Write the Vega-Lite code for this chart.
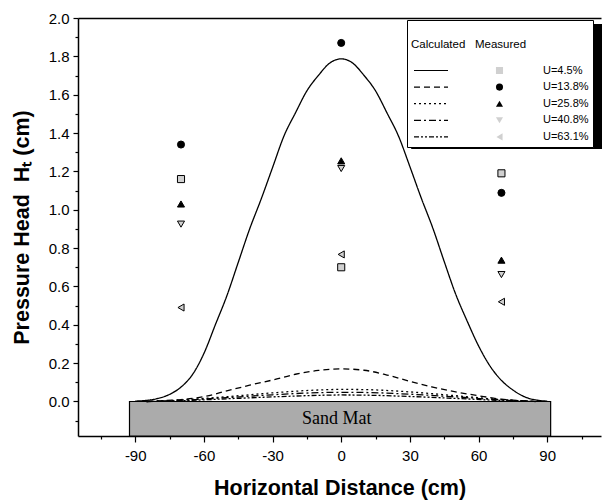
{
  "$schema": "https://vega.github.io/schema/vega-lite/v6.json",
  "width": 523,
  "height": 418,
  "autosize": {"type": "none"},
  "padding": {"left": 78, "top": 18, "right": 1, "bottom": 67},
  "background": "white",
  "config": {"view": {"stroke": null}, "font": "Liberation Sans"},
  "datasets": {
    "calc": [
      {"x": -90, "h": 0.002, "U": "U=4.5%"}, {"x": -85, "h": 0.006, "U": "U=4.5%"}, {"x": -80, "h": 0.016, "U": "U=4.5%"},
      {"x": -75, "h": 0.037, "U": "U=4.5%"}, {"x": -70, "h": 0.075, "U": "U=4.5%"}, {"x": -65, "h": 0.14, "U": "U=4.5%"},
      {"x": -60, "h": 0.25, "U": "U=4.5%"}, {"x": -55, "h": 0.40, "U": "U=4.5%"}, {"x": -50, "h": 0.55, "U": "U=4.5%"},
      {"x": -45, "h": 0.725, "U": "U=4.5%"}, {"x": -40, "h": 0.90, "U": "U=4.5%"}, {"x": -35, "h": 1.055, "U": "U=4.5%"},
      {"x": -30, "h": 1.22, "U": "U=4.5%"}, {"x": -25, "h": 1.385, "U": "U=4.5%"}, {"x": -20, "h": 1.505, "U": "U=4.5%"},
      {"x": -15, "h": 1.62, "U": "U=4.5%"}, {"x": -10, "h": 1.70, "U": "U=4.5%"}, {"x": -5, "h": 1.765, "U": "U=4.5%"},
      {"x": 0, "h": 1.787, "U": "U=4.5%"}, {"x": 5, "h": 1.765, "U": "U=4.5%"}, {"x": 10, "h": 1.70, "U": "U=4.5%"},
      {"x": 15, "h": 1.62, "U": "U=4.5%"}, {"x": 20, "h": 1.505, "U": "U=4.5%"}, {"x": 25, "h": 1.385, "U": "U=4.5%"},
      {"x": 30, "h": 1.225, "U": "U=4.5%"}, {"x": 35, "h": 1.06, "U": "U=4.5%"}, {"x": 40, "h": 0.905, "U": "U=4.5%"},
      {"x": 45, "h": 0.73, "U": "U=4.5%"}, {"x": 50, "h": 0.56, "U": "U=4.5%"}, {"x": 55, "h": 0.42, "U": "U=4.5%"},
      {"x": 60, "h": 0.29, "U": "U=4.5%"}, {"x": 65, "h": 0.185, "U": "U=4.5%"}, {"x": 70, "h": 0.11, "U": "U=4.5%"},
      {"x": 75, "h": 0.06, "U": "U=4.5%"}, {"x": 80, "h": 0.025, "U": "U=4.5%"}, {"x": 85, "h": 0.008, "U": "U=4.5%"},
      {"x": 90, "h": 0.002, "U": "U=4.5%"},

      {"x": -85, "h": 0.0, "U": "U=13.8%"}, {"x": -80, "h": 0.003, "U": "U=13.8%"}, {"x": -70, "h": 0.01, "U": "U=13.8%"},
      {"x": -60, "h": 0.025, "U": "U=13.8%"}, {"x": -50, "h": 0.055, "U": "U=13.8%"}, {"x": -40, "h": 0.085, "U": "U=13.8%"},
      {"x": -30, "h": 0.112, "U": "U=13.8%"}, {"x": -20, "h": 0.142, "U": "U=13.8%"}, {"x": -10, "h": 0.162, "U": "U=13.8%"},
      {"x": 0, "h": 0.17, "U": "U=13.8%"}, {"x": 10, "h": 0.163, "U": "U=13.8%"}, {"x": 20, "h": 0.138, "U": "U=13.8%"},
      {"x": 30, "h": 0.105, "U": "U=13.8%"}, {"x": 40, "h": 0.075, "U": "U=13.8%"}, {"x": 50, "h": 0.05, "U": "U=13.8%"},
      {"x": 60, "h": 0.03, "U": "U=13.8%"}, {"x": 70, "h": 0.012, "U": "U=13.8%"}, {"x": 80, "h": 0.003, "U": "U=13.8%"},
      {"x": 85, "h": 0.0, "U": "U=13.8%"},

      {"x": -85, "h": 0.0, "U": "U=25.8%"}, {"x": -70, "h": 0.008, "U": "U=25.8%"}, {"x": -50, "h": 0.025, "U": "U=25.8%"},
      {"x": -30, "h": 0.045, "U": "U=25.8%"}, {"x": -10, "h": 0.06, "U": "U=25.8%"}, {"x": 0, "h": 0.063, "U": "U=25.8%"},
      {"x": 10, "h": 0.062, "U": "U=25.8%"}, {"x": 30, "h": 0.05, "U": "U=25.8%"}, {"x": 50, "h": 0.03, "U": "U=25.8%"},
      {"x": 70, "h": 0.01, "U": "U=25.8%"}, {"x": 85, "h": 0.0, "U": "U=25.8%"},

      {"x": -85, "h": 0.0, "U": "U=40.8%"}, {"x": -70, "h": 0.006, "U": "U=40.8%"}, {"x": -50, "h": 0.02, "U": "U=40.8%"},
      {"x": -30, "h": 0.035, "U": "U=40.8%"}, {"x": -10, "h": 0.046, "U": "U=40.8%"}, {"x": 0, "h": 0.048, "U": "U=40.8%"},
      {"x": 10, "h": 0.047, "U": "U=40.8%"}, {"x": 30, "h": 0.038, "U": "U=40.8%"}, {"x": 50, "h": 0.024, "U": "U=40.8%"},
      {"x": 70, "h": 0.008, "U": "U=40.8%"}, {"x": 85, "h": 0.0, "U": "U=40.8%"},

      {"x": -85, "h": 0.0, "U": "U=63.1%"}, {"x": -70, "h": 0.004, "U": "U=63.1%"}, {"x": -50, "h": 0.014, "U": "U=63.1%"},
      {"x": -30, "h": 0.024, "U": "U=63.1%"}, {"x": -10, "h": 0.032, "U": "U=63.1%"}, {"x": 0, "h": 0.034, "U": "U=63.1%"},
      {"x": 10, "h": 0.033, "U": "U=63.1%"}, {"x": 30, "h": 0.026, "U": "U=63.1%"}, {"x": 50, "h": 0.016, "U": "U=63.1%"},
      {"x": 70, "h": 0.005, "U": "U=63.1%"}, {"x": 85, "h": 0.0, "U": "U=63.1%"}
    ],
    "meas": [
      {"x": -70, "h": 1.16, "U": "U=4.5%"}, {"x": -70, "h": 1.34, "U": "U=13.8%"}, {"x": -70, "h": 1.03, "U": "U=25.8%"},
      {"x": -70, "h": 0.925, "U": "U=40.8%"}, {"x": -70, "h": 0.49, "U": "U=63.1%"},
      {"x": 0, "h": 0.70, "U": "U=4.5%"}, {"x": 0, "h": 1.87, "U": "U=13.8%"}, {"x": 0, "h": 1.255, "U": "U=25.8%"},
      {"x": 0, "h": 1.215, "U": "U=40.8%"}, {"x": 0, "h": 0.767, "U": "U=63.1%"},
      {"x": 70, "h": 1.19, "U": "U=4.5%"}, {"x": 70, "h": 1.088, "U": "U=13.8%"}, {"x": 70, "h": 0.737, "U": "U=25.8%"},
      {"x": 70, "h": 0.662, "U": "U=40.8%"}, {"x": 70, "h": 0.52, "U": "U=63.1%"}
    ],
    "mat": [
      {"xs": -92.5, "xe": 91.5, "ys": 0, "ye": -0.18, "xc": -2, "yc": -0.09, "label": "Sand Mat"}
    ]
  },
  "layer": [
    {
      "data": {"name": "mat"},
      "mark": {"type": "rect", "fill": "#ababab", "stroke": "black", "strokeWidth": 1.2},
      "encoding": {
        "x": {"field": "xs", "type": "quantitative", "scale": {"domain": [-115, 113.5], "nice": false, "zero": false}, "axis": null},
        "x2": {"field": "xe"},
        "y": {"field": "ys", "type": "quantitative", "scale": {"domain": [-0.18, 2.0], "nice": false, "zero": false}, "axis": null},
        "y2": {"field": "ye"}
      }
    },
    {
      "data": {"name": "mat"},
      "mark": {"type": "text", "font": "Liberation Serif", "fontSize": 18, "align": "center", "baseline": "middle"},
      "encoding": {
        "x": {"field": "xc", "type": "quantitative", "axis": null},
        "y": {"field": "yc", "type": "quantitative", "axis": null},
        "text": {"field": "label"},
        "color": {
          "field": "label", "type": "nominal",
          "scale": {"range": ["black"]},
          "legend": {
            "orient": "none", "legendX": 333, "legendY": 6, "title": null, "padding": 0,
            "fillColor": "black", "strokeColor": "black",
            "symbolType": "square", "symbolSize": 36100, "symbolOffset": 0, "symbolOpacity": 0,
            "labelExpr": "''", "labelOpacity": 0, "clipHeight": 124, "zindex": 0
          }
        }
      }
    },
    {
      "data": {"name": "calc"},
      "mark": {"type": "line", "color": "black", "strokeWidth": 1.3, "interpolate": "monotone"},
      "encoding": {
        "x": {
          "field": "x", "type": "quantitative",
          "axis": {
            "orient": "bottom", "title": "Horizontal Distance (cm)",
            "values": [-105, -90, -75, -60, -45, -30, -15, 0, 15, 30, 45, 60, 75, 90, 105],
            "labelExpr": "datum.value % 30 === 0 ? '' + datum.value : ''",
            "tickSize": {"condition": {"test": "datum.value % 30 === 0", "value": 6}, "value": 3},
            "grid": false, "domainColor": "black", "domainWidth": 1.5, "tickColor": "black", "tickWidth": 1.2,
            "labelFont": "Liberation Sans", "labelFontSize": 15, "labelColor": "black", "labelPadding": 6,
            "labelFlush": false, "labelOverlap": false,
            "titleFont": "Liberation Sans", "titleFontSize": 21.5, "titleFontWeight": "bold", "titleColor": "black", "titlePadding": 14
          }
        },
        "y": {
          "field": "h", "type": "quantitative",
          "axis": {
            "orient": "left",
            "title": "Pressure Head\u00a0\u00a0Hₜ (cm)",
            "values": [0, 0.2, 0.4, 0.6, 0.8, 1.0, 1.2, 1.4, 1.6, 1.8, 2.0],
            "format": ".1f",
            "tickSize": 5,
            "grid": false, "domainColor": "black", "domainWidth": 1.5, "tickColor": "black", "tickWidth": 1.2,
            "labelFont": "Liberation Sans", "labelFontSize": 15, "labelColor": "black", "labelPadding": 4,
            "labelFlush": false, "labelOverlap": false,
            "titleFont": "Liberation Sans", "titleFontSize": 21.5, "titleFontWeight": "bold", "titleColor": "black", "titlePadding": 15
          }
        },
        "strokeDash": {
          "field": "U", "type": "nominal",
          "scale": {
            "domain": ["U=63.1%", "U=40.8%", "U=25.8%", "U=13.8%", "U=4.5%"],
            "range": [[5, 2, 2, 2, 2, 2], [7, 3, 2, 3], [2, 3], [6, 4], [1, 0]]
          },
          "legend": {
            "orient": "none", "legendX": 335, "legendY": 47, "title": null, "padding": 0,
            "values": ["U=4.5%", "U=13.8%", "U=25.8%", "U=40.8%", "U=63.1%"],
            "symbolType": "stroke", "symbolSize": 1156, "symbolStrokeColor": "black", "symbolStrokeWidth": 1.2,
            "labelExpr": "''", "labelFontSize": 11, "clipHeight": 11, "rowPadding": 4.6, "zindex": 2
          }
        }
      }
    },
    {
      "data": {"name": "meas"},
      "mark": {"type": "point", "filled": true, "stroke": "black", "strokeWidth": 1, "opacity": 1, "size": 50},
      "encoding": {
        "x": {
          "field": "x", "type": "quantitative",
          "axis": {"orient": "top", "labels": false, "ticks": false, "title": null, "grid": false, "domainColor": "black", "domainWidth": 1.5}
        },
        "y": {
          "field": "h", "type": "quantitative",
          "axis": {
            "orient": "left", "values": [-0.1, 0.1, 0.3, 0.5, 0.7, 0.9, 1.1, 1.3, 1.5, 1.7, 1.9],
            "labels": false, "title": null, "domain": false, "grid": false,
            "tickSize": 3, "tickColor": "black", "tickWidth": 1.2
          }
        },
        "fill": {
          "field": "U", "type": "nominal",
          "scale": {
            "domain": ["U=4.5%", "U=13.8%", "U=25.8%", "U=40.8%", "U=63.1%"],
            "range": ["#d0d0d0", "black", "black", "#d0d0d0", "#d0d0d0"]
          },
          "legend": {
            "orient": "none", "legendX": 329, "legendY": 2,
            "title": ["", "Calculated\u00a0\u00a0\u00a0Measured"],
            "titleFont": "Liberation Sans", "titleFontSize": 11.5, "titleFontWeight": "normal", "titleColor": "black",
            "titleLineHeight": 14.5, "titlePadding": 15, "padding": 4,
            "fillColor": "white", "strokeColor": "black",
            "symbolSize": 50, "symbolOffset": 83, "symbolStrokeColor": "black", "symbolStrokeWidth": 1,
            "labelOffset": 38, "labelFont": "Liberation Sans", "labelFontSize": 11, "labelColor": "black",
            "labelExpr": "datum.label + '        '",
            "clipHeight": 11, "rowPadding": 4.6, "zindex": 1
          }
        },
        "shape": {
          "field": "U", "type": "nominal",
          "scale": {
            "domain": ["U=4.5%", "U=13.8%", "U=25.8%", "U=40.8%", "U=63.1%"],
            "range": ["square", "circle", "triangle-up", "triangle-down", "triangle-left"]
          },
          "legend": {
            "orient": "none", "legendX": 329, "legendY": 2,
            "title": ["", "Calculated\u00a0\u00a0\u00a0Measured"],
            "titleFont": "Liberation Sans", "titleFontSize": 11.5, "titleFontWeight": "normal", "titleColor": "black",
            "titleLineHeight": 14.5, "titlePadding": 15, "padding": 4,
            "fillColor": "white", "strokeColor": "black",
            "symbolSize": 50, "symbolOffset": 83, "symbolStrokeColor": "black", "symbolStrokeWidth": 1,
            "labelOffset": 38, "labelFont": "Liberation Sans", "labelFontSize": 11, "labelColor": "black",
            "labelExpr": "datum.label + '        '",
            "clipHeight": 11, "rowPadding": 4.6, "zindex": 1
          }
        }
      }
    }
  ],
  "resolve": {"axis": {"x": "independent", "y": "independent"}}
}
